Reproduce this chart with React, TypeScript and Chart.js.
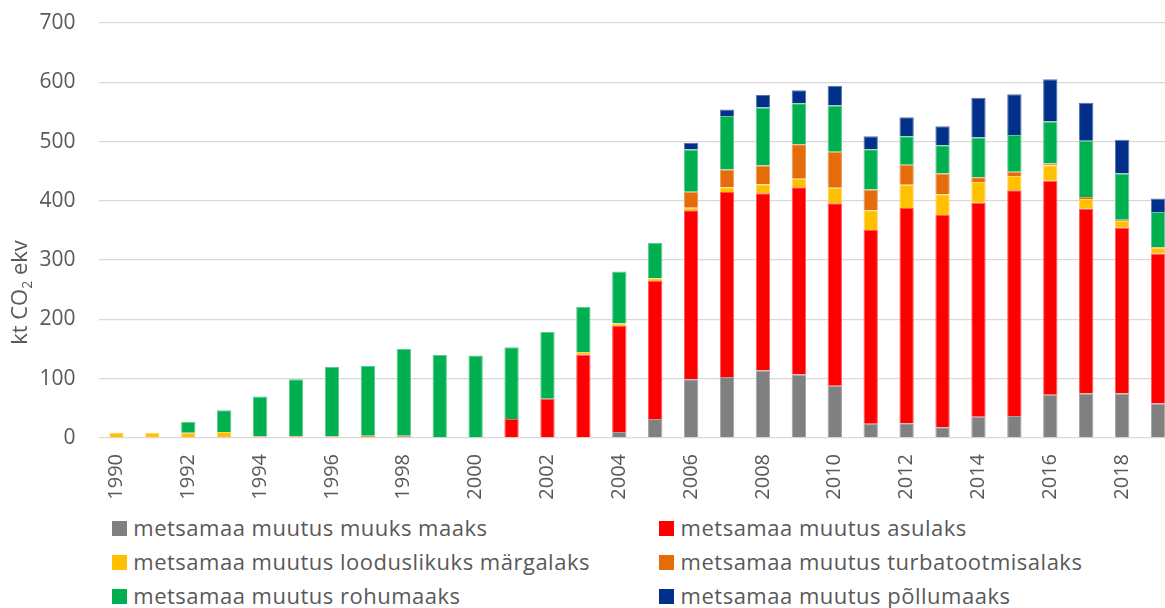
import React, { useEffect, useRef } from "react";
import { Chart, registerables } from "chart.js";

Chart.register(...registerables);

const years = [
  "1990", "1991", "1992", "1993", "1994", "1995", "1996", "1997", "1998", "1999",
  "2000", "2001", "2002", "2003", "2004", "2005", "2006", "2007", "2008", "2009",
  "2010", "2011", "2012", "2013", "2014", "2015", "2016", "2017", "2018", "2019",
];

const seriesNames = [
  "metsamaa muutus muuks maaks",
  "metsamaa muutus asulaks",
  "metsamaa muutus looduslikuks märgalaks",
  "metsamaa muutus turbatootmisalaks",
  "metsamaa muutus rohumaaks",
  "metsamaa muutus põllumaaks",
];

const seriesColors = ["#808080", "#FF0000", "#FFC000", "#E46C0A", "#00B050", "#00308A"];
const seriesBorders = ["#a3a3a3", "#ff5a5a", "#ffd660", "#ee9a58", "#5ccb8e", "#5a75ad"];

const muuksMaaks = [0, 0, 0, 0, 0, 0, 0, 0, 0, 0, 0, 0, 0, 0, 10, 32, 99, 103, 114, 107, 88, 24, 25, 18, 36, 37, 73, 75, 75, 58];
const asulaks = [0, 0, 0, 0, 0, 0, 0, 0, 0, 0, 0, 32, 66, 141, 179, 233, 285, 312, 299, 316, 308, 327, 363, 358, 361, 381, 361, 312, 280, 253];
const margalaks = [9, 9, 9, 10, 0, 0, 0, 0, 0, 0, 0, 0, 0, 4, 4, 4.5, 4.5, 8, 15, 14.5, 26, 33, 39, 35, 35, 24, 26, 16, 11, 10];
const turbatootmisalaks = [0, 0, 0, 0, 3, 3, 3, 4, 4, 0, 0, 0, 0, 0, 0, 0, 27, 30, 31.5, 58, 61, 35, 34, 35, 8, 7, 3, 3.5, 2, 1];
const rohumaaks = [0, 0, 18, 37, 67, 96, 117, 118, 146, 140, 139, 121, 113, 76, 88, 60, 71, 90, 98, 69, 78, 68, 48, 48, 67, 62, 71, 95, 78, 59];
const pollumaaks = [0, 0, 0, 0, 0, 0, 0, 0, 0, 0, 0, 0, 0, 0, 0, 0, 11, 11, 21, 22, 33, 22, 32, 32, 67, 69, 71, 64, 57, 23];

const seriesValues = [muuksMaaks, asulaks, margalaks, turbatootmisalaks, rohumaaks, pollumaaks];

const yMin = 0;
const yMax = 700;
const yStep = 100;

const textColor = "#595959";
const fontFamily = '"Open Sans", "Noto Sans", sans-serif';

const yTitlePlugin = {
  id: "yTitleCustom",
  afterDraw(chart: any) {
    const ctx = chart.ctx as CanvasRenderingContext2D;
    ctx.save();
    ctx.translate(0, 292.5);
    ctx.rotate(-Math.PI / 2);
    ctx.fillStyle = textColor;
    ctx.textBaseline = "alphabetic";
    ctx.textAlign = "left";
    const big = `22px ${fontFamily}`;
    const small = `14px ${fontFamily}`;
    const p1 = "kt CO";
    const p2 = "2";
    const p3 = " ekv";
    ctx.font = big;
    const w1 = ctx.measureText(p1).width;
    const w3 = ctx.measureText(p3).width;
    ctx.font = small;
    const w2 = ctx.measureText(p2).width;
    const total = w1 + w2 + w3;
    let x = -total / 2;
    const base = 27;
    ctx.font = big;
    ctx.fillText(p1, x, base);
    x += w1;
    ctx.font = small;
    ctx.fillText(p2, x, base + 5);
    x += w2;
    ctx.font = big;
    ctx.fillText(p3, x, base);
    ctx.restore();
  },
};

export default function App() {
  const canvasRef = useRef<HTMLCanvasElement | null>(null);

  useEffect(() => {
    if (!canvasRef.current) return;
    const chart = new Chart(canvasRef.current, {
      type: "bar",
      data: {
        labels: years,
        datasets: seriesNames.map((name, i) => ({
          label: name,
          data: seriesValues[i],
          backgroundColor: seriesColors[i],
          borderColor: seriesBorders[i],
          borderWidth: 1,
          categoryPercentage: 1,
          barPercentage: 0.4,
        })),
      },
      options: {
        responsive: false,
        animation: false,
        events: [],
        layout: { padding: { top: 23, right: 1, left: 0, bottom: 0 } },
        plugins: {
          legend: { display: false },
          tooltip: { enabled: false },
          title: { display: false },
        },
        scales: {
          x: {
            stacked: true,
            grid: { display: false, drawTicks: false },
            border: { display: false },
            ticks: {
              autoSkip: false,
              minRotation: 90,
              maxRotation: 90,
              padding: 16,
              color: textColor,
              font: { family: fontFamily, size: 20 },
              callback: (_v: any, idx: number) => (idx % 2 === 0 ? years[idx] : ""),
            },
            afterFit: (scale: any) => {
              scale.height = 72;
              scale.paddingLeft = 0;
              scale.paddingRight = 0;
            },
          },
          y: {
            stacked: true,
            min: yMin,
            max: yMax,
            grid: { color: "#D9D9D9", lineWidth: 1.3, drawTicks: false },
            border: { display: false },
            ticks: {
              stepSize: yStep,
              padding: 23,
              color: textColor,
              font: { family: fontFamily, size: 21 },
            },
            afterFit: (scale: any) => {
              scale.width = 98.5;
              scale.paddingTop = 0;
              scale.paddingBottom = 0;
            },
          },
        },
      },
      plugins: [yTitlePlugin],
    });
    return () => chart.destroy();
  }, []);

  const legendCols = [112, 659.3];
  const legendBaselines = [535, 569, 603];

  return (
    <div
      style={{
        position: "fixed",
        left: 0,
        top: 0,
        width: 1165,
        height: 608,
        overflow: "hidden",
        background: "#fff",
        fontFamily,
      }}
    >
      <canvas
        ref={canvasRef}
        width={1177}
        height={510}
        style={{ position: "absolute", left: 0, top: 0, width: 1177, height: 510 }}
      />
      {seriesNames.map((name, i) => {
        const col = i % 2;
        const row = Math.floor(i / 2);
        const left = legendCols[col];
        const top = legendBaselines[row] - 19.5;
        return (
          <div
            key={name}
            style={{
              position: "absolute",
              left,
              top,
              height: 22,
              lineHeight: "22px",
              fontSize: 22,
              letterSpacing: 0.5,
              color: textColor,
              whiteSpace: "nowrap",
            }}
          >
            <span
              style={{
                position: "absolute",
                left: 0,
                top: 5.5,
                width: 14.5,
                height: 14.5,
                background: seriesColors[i],
              }}
            />
            <span style={{ position: "absolute", left: 21.3, top: 0 }}>{name}</span>
          </div>
        );
      })}
    </div>
  );
}
